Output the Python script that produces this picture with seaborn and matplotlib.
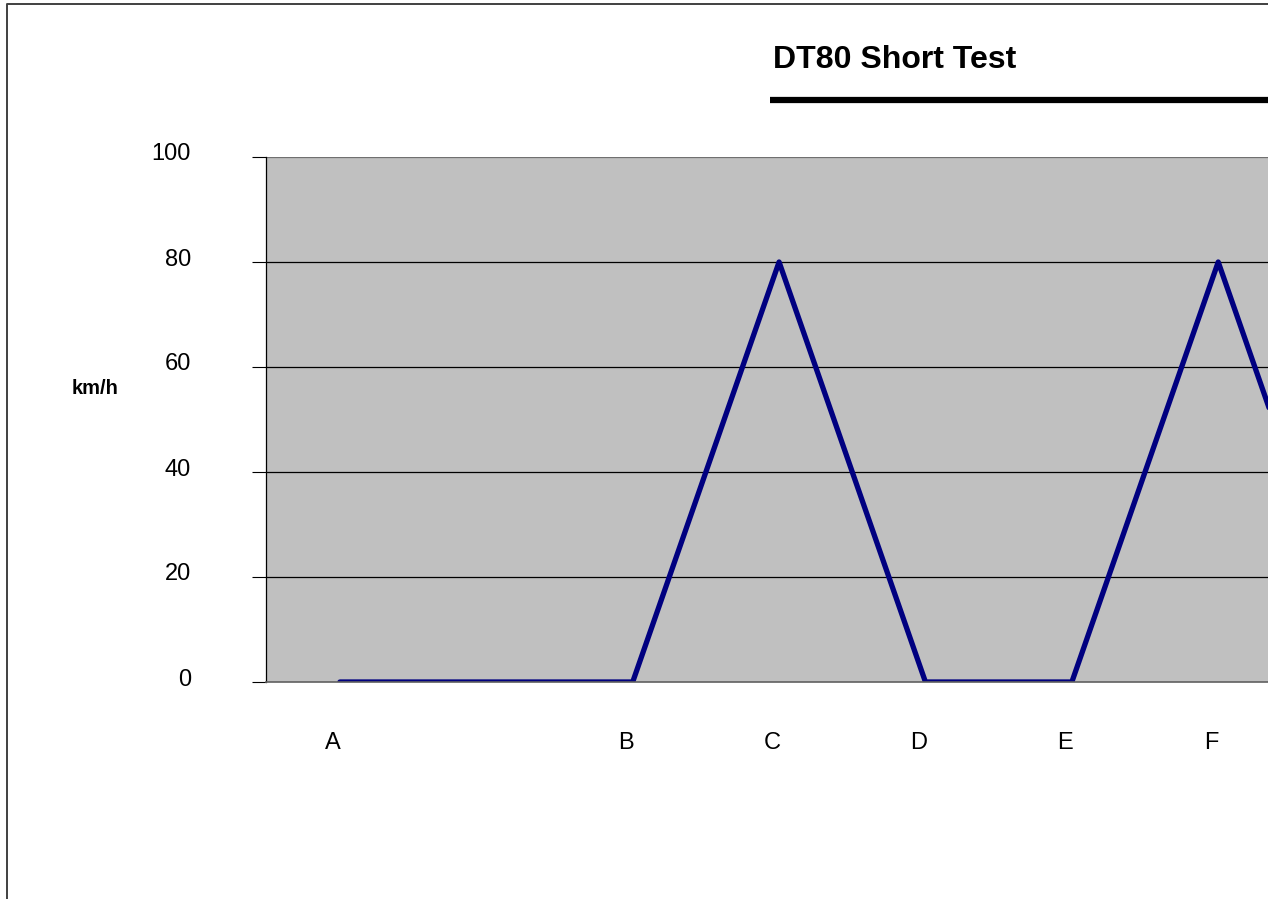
import numpy as np
import pandas as pd
import matplotlib
matplotlib.use("Agg")
import matplotlib.pyplot as plt
import matplotlib.transforms as mtransforms
from matplotlib.lines import Line2D
import seaborn as sns

# test profile
time_steps = [0, 2, 3, 4, 5, 6, 7]
speed_kmh = [0, 0, 80, 0, 0, 80, 0]
tick_pos = [0, 2, 3, 4, 5, 6]
tick_labels = ["A", "B", "C", "D", "E", "F"]
y_ticks = [0, 20, 40, 60, 80, 100]

sns.set_theme(style="white")
plt.rcParams["font.family"] = ["Liberation Sans", "DejaVu Sans"]
plt.rcParams["text.color"] = "black"
plt.rcParams["xtick.color"] = "black"
plt.rcParams["ytick.color"] = "black"

fig = plt.figure(figsize=(12.68, 8.99), dpi=100)
ax = fig.add_axes([266 / 1268, (899 - 682) / 899, 1 - 266 / 1268, (682 - 157) / 899])
ax.set_facecolor("#c0c0c0")

df = pd.DataFrame({"t": time_steps, "speed": speed_kmh})
sns.lineplot(data=df, x="t", y="speed", ax=ax, color="#000080", linewidth=3.8)

ax.set_xlim(-0.505, 6.34)
ax.set_ylim(0, 100)

# horizontal gridlines
for y in y_ticks[1:]:
    ax.axhline(y, color="black" if y < 100 else "#707070", linewidth=0.9, zorder=1)

ax.set_yticks(y_ticks)
ax.set_yticklabels([str(v) for v in y_ticks], fontsize=17)
ax.tick_params(axis="y", direction="out", length=10, width=0.8, color="black",
               pad=44, left=True)
for lbl in ax.get_yticklabels():
    lbl.set_transform(lbl.get_transform() + mtransforms.ScaledTranslation(0, 5 / 100, fig.dpi_scale_trans))

ax.set_xticks(tick_pos)
ax.set_xticklabels(tick_labels, fontsize=17)
ax.tick_params(axis="x", length=0, pad=36)
for lbl in ax.get_xticklabels():
    lbl.set_transform(lbl.get_transform() + mtransforms.ScaledTranslation(-7 / 100, 0, fig.dpi_scale_trans))

ax.set_xlabel("")
ax.set_ylabel("")
for side in ["top", "right"]:
    ax.spines[side].set_visible(False)
ax.spines["left"].set_color("black")
ax.spines["left"].set_linewidth(0.9)
ax.spines["bottom"].set_color("#606060")
ax.spines["bottom"].set_linewidth(1.2)

fig.text(95 / 1268, 1 - 388 / 899, "km/h", fontsize=14.5, fontweight="bold",
         ha="center", va="center")

# title with thick rule underneath
fig.text(773 / 1268, 1 - 60 / 899, "DT80 Short Test", fontsize=23, fontweight="bold",
         ha="left", va="center")
fig.add_artist(Line2D([770 / 1268, 1.0], [1 - 99.7 / 899] * 2, color="black", linewidth=4.5,
                      solid_capstyle="butt", transform=fig.transFigure))

# outer frame, only left and top edges are in view
fig.add_artist(Line2D([7 / 1268, 7 / 1268, 1.0], [0.0, 1 - 4 / 899, 1 - 4 / 899],
                      color="#404040", linewidth=1.4, transform=fig.transFigure))

fig.savefig("out.png", dpi=100)
